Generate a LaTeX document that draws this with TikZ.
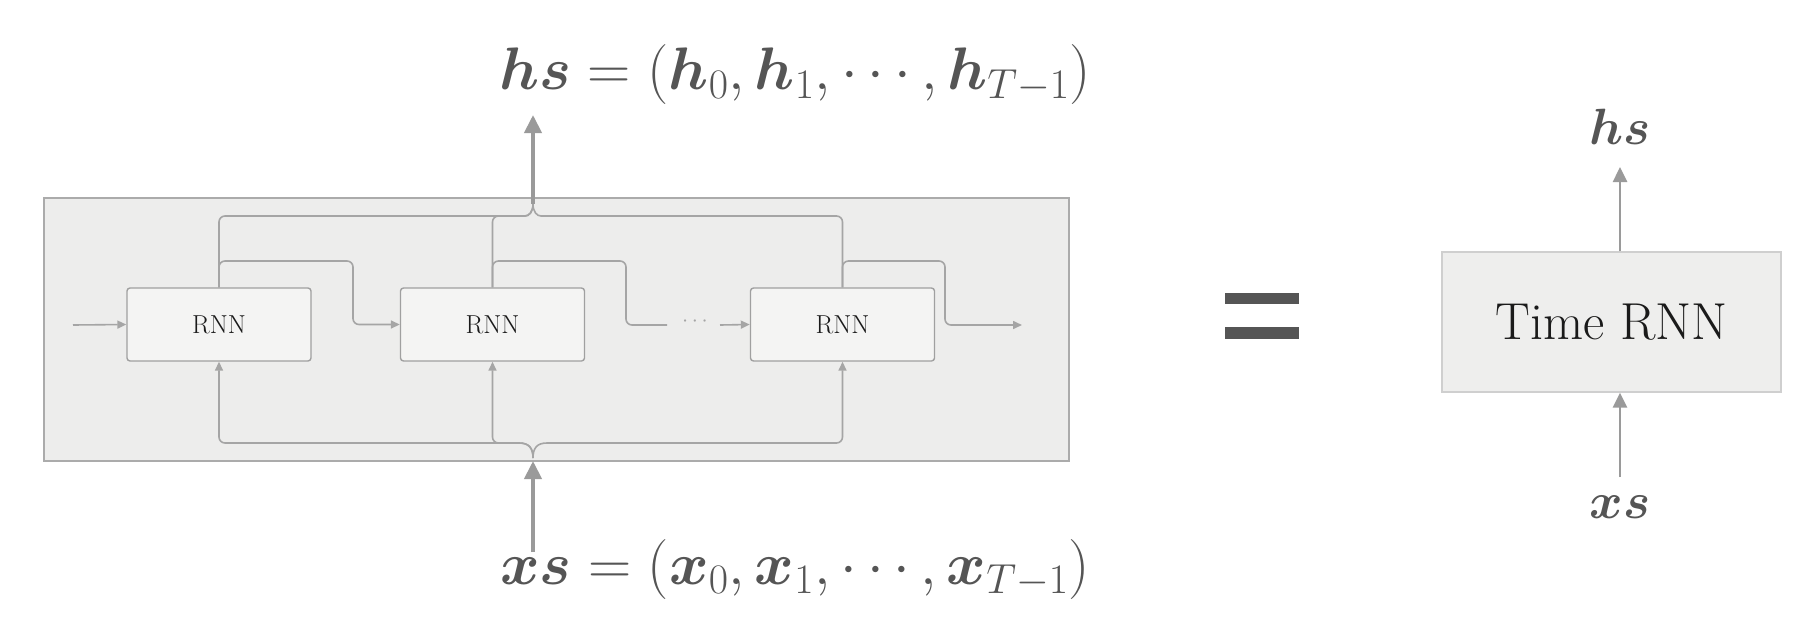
\RequirePackage{fix-cm}
\documentclass[tikz,border=0pt]{standalone}
\usepackage{bm}
\usetikzlibrary{arrows.meta}
\definecolor{outerfill}{HTML}{EDEDEC}
\definecolor{outerborder}{HTML}{ABABAB}
\definecolor{rnnfill}{HTML}{F4F4F3}
\definecolor{rnnborder}{HTML}{A0A0A0}
\definecolor{linegray}{HTML}{A5A5A5}
\definecolor{biggray}{HTML}{9A9A9A}
\definecolor{trfill}{HTML}{EEEEED}
\definecolor{trborder}{HTML}{CFCFCF}
\definecolor{labelgray}{HTML}{555555}
\definecolor{boxtext}{HTML}{1A1A1A}
\definecolor{eqgray}{HTML}{555555}
\begin{document}
\begin{tikzpicture}[x=1pt,y=-1pt,
  conn/.style={draw=linegray, line width=1.6pt},
  tipS/.style={-{Triangle[length=9pt,width=8pt]}},
  big/.style={draw=biggray, line width=4pt, -{Triangle[length=18pt,width=17pt]}},
  rarrow/.style={draw=biggray, line width=2.6pt, -{Triangle[length=15pt,width=14pt]}},
  rnn/.style={draw=rnnborder, fill=rnnfill, rounded corners=3pt, line width=1.4pt,
    minimum width=184pt, minimum height=73pt, inner sep=0pt,
    font=\fontsize{26}{29}\selectfont, text=boxtext},
  lbl/.style={text=labelgray, inner sep=0pt, font=\fontsize{60}{64}\selectfont},
  lblr/.style={text=labelgray, inner sep=0pt, font=\fontsize{51}{55}\selectfont},
]
\useasboundingbox (0,0) rectangle (1818,624);

% outer container
\node[draw=outerborder, fill=outerfill, line width=1.5pt, inner sep=0pt,
  minimum width=1025pt, minimum height=263pt] (outer) at (556.5,329.5) {};

% RNN cells
\node[rnn] (r1) at (219,324.5) {RNN};
\node[rnn] (r2) at (492.5,324.5) {RNN};
\node[rnn] (r3) at (842.5,324.5) {RNN};
\node[text=linegray, inner sep=0pt, font=\fontsize{22}{24}\selectfont] (dots) at (695,322) {$\cdots$};

% junction points
\coordinate (hj) at (533,204);
\coordinate (hstip) at (533,115);
\coordinate (xj) at (533,458);
\coordinate (xstip) at (533,461);
\coordinate (xstail) at (533,552);
\coordinate (inL) at (73,325);
\coordinate (outR) at (1022,325);

% horizontal recurrent connections
\draw[conn,tipS] (inL) -- (r1.west);
\draw[conn,tipS,rounded corners=6pt] (r1.north) |- (353,261) |- (r2.west);
\draw[conn,rounded corners=6pt] (r2.north) |- (626,261) |- (667,325);
\draw[conn,tipS] (720,325) -- (r3.west);
\draw[conn,tipS,rounded corners=6pt] (r3.north) |- (945,261) |- (outR);

% top bus into hs
\draw[conn,rounded corners=6pt] (r1.north) |- (519,216) [sharp corners] .. controls (529,216) and (533,212) .. (hj);
\draw[conn,rounded corners=6pt] (r2.north) |- (519,216) [sharp corners] .. controls (529,216) and (533,212) .. (hj);
\draw[conn,rounded corners=6pt] (r3.north) |- (547,216) [sharp corners] .. controls (537,216) and (533,212) .. (hj);

% bottom bus from xs
\draw[conn,tipS] (xj) .. controls (533,448) and (529,443) .. (519,443) [rounded corners=6pt] -| (r1.south);
\draw[conn,tipS] (xj) .. controls (533,448) and (529,443) .. (519,443) [rounded corners=6pt] -| (r2.south);
\draw[conn,tipS] (xj) .. controls (533,448) and (537,443) .. (547,443) [rounded corners=6pt] -| (r3.south);

% big in/out arrows
\draw[big] (hj) -- (hstip);
\draw[big] (xstail) -- (xstip);

% labels
\node[lbl, anchor=base] (hsL) at (795,89) {$\bm{hs} = (\bm{h}_0, \bm{h}_1, \cdots, \bm{h}_{T-1})$};
\node[lbl, anchor=base] (xsL) at (795,584) {$\bm{xs} = (\bm{x}_0, \bm{x}_1, \cdots, \bm{x}_{T-1})$};

% equals sign
\fill[eqgray] (1225,293) rectangle (1299,304);
\fill[eqgray] (1225,327) rectangle (1299,339);

% Time RNN block
\node[draw=trborder, fill=trfill, line width=1.4pt, inner sep=0pt,
  minimum width=339pt, minimum height=140pt,
  font=\fontsize{52}{57}\selectfont, text=boxtext] (tr) at (1611.5,322) {Time RNN};
\node[lblr, anchor=base] (hsR) at (1620,144) {$\bm{hs}$};
\node[lblr, anchor=base] (xsR) at (1620,518) {$\bm{xs}$};
\coordinate (hsRtip) at (1620,167);
\coordinate (xsRtail) at (1620,477);
\draw[rarrow] (tr.north -| hsR.base) -- (hsRtip);
\draw[rarrow] (xsRtail) -- (tr.south -| xsR.base);
\end{tikzpicture}
\end{document}
